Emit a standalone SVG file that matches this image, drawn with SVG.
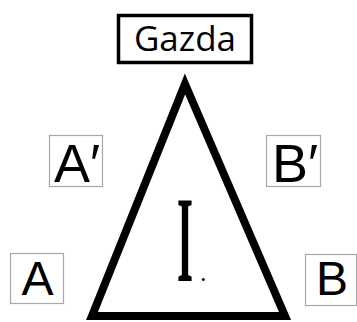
<svg xmlns="http://www.w3.org/2000/svg" width="357" height="322" viewBox="0 0 357 322">
<style>
.lbl{fill:none;stroke:#a8a8a8;stroke-width:1.2}
.lt{font-family:"Liberation Sans",Arial,sans-serif;fill:#000;text-anchor:middle}
</style>
<rect width="357" height="322" fill="#fff"/>
<g id="triangle">
<path d="M185,84 L285,316 L92,316 Z" fill="none" stroke="#000" stroke-width="8" stroke-linejoin="miter" stroke-miterlimit="10"/>
<text font-family="'Liberation Serif',serif" font-weight="bold"><tspan x="177" y="281" font-size="123" textLength="16" lengthAdjust="spacingAndGlyphs">I</tspan><tspan x="200" y="281" font-size="26" font-weight="normal">.</tspan></text>
</g>
<g id="gazda">
<rect x="118.5" y="15.5" width="133" height="47" fill="#fff" stroke="#000" stroke-width="3.5"/>
<text x="185" y="51" font-family="'Open Sans','Noto Sans',sans-serif" font-size="35" text-anchor="middle">Gazda</text>
</g>
<g id="A-prime">
<rect class="lbl" x="49.5" y="135.5" width="53" height="51"/>
<text class="lt" x="77" y="182" font-size="54">A′</text>
</g>
<g id="B-prime">
<rect class="lbl" x="266.5" y="135.5" width="54" height="51"/>
<text class="lt" x="295" y="182" font-size="54">B′</text>
</g>
<g id="A">
<rect class="lbl" x="10.5" y="253.5" width="53" height="50"/>
<text class="lt" x="37.5" y="295" font-size="48">A</text>
</g>
<g id="B">
<rect class="lbl" x="305.5" y="254.5" width="51" height="51"/>
<text class="lt" x="332" y="295" font-size="48">B</text>
</g>
<g id="connectors"/>
</svg>
